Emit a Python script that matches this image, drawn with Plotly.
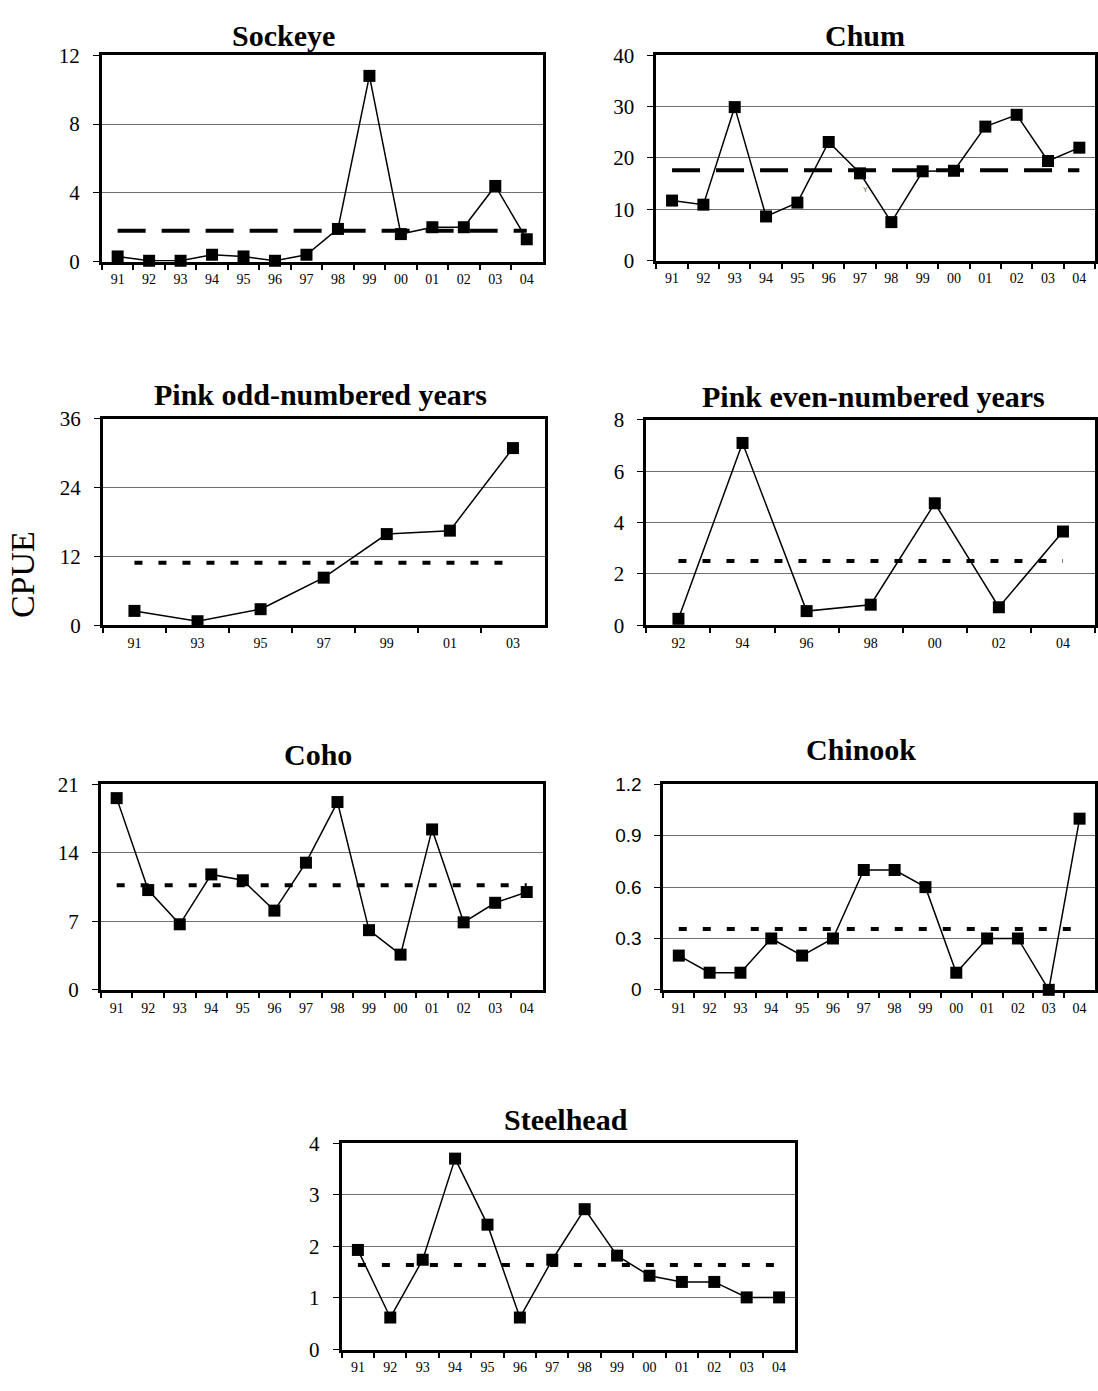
import plotly.graph_objects as go

W, H = 1098, 1391

years14 = ["91", "92", "93", "94", "95", "96", "97", "98", "99", "00", "01", "02", "03", "04"]
years_odd = ["91", "93", "95", "97", "99", "01", "03"]
years_even = ["92", "94", "96", "98", "00", "02", "04"]

sockeye = [0.3, 0.05, 0.05, 0.4, 0.3, 0.05, 0.4, 1.9, 10.8, 1.6, 2.0, 2.0, 4.4, 1.3]
chum = [11.7, 10.9, 29.9, 8.6, 11.3, 23.1, 17.0, 7.5, 17.4, 17.5, 26.1, 28.4, 19.4, 22.0]
pink_odd = [2.5, 0.7, 2.8, 8.3, 15.9, 16.5, 30.9]
pink_even = [0.25, 7.1, 0.55, 0.8, 4.75, 0.7, 3.65]
coho = [19.6, 10.2, 6.7, 11.8, 11.2, 8.1, 13.0, 19.2, 6.1, 3.6, 16.4, 6.9, 8.9, 10.0]
chinook = [0.2, 0.1, 0.1, 0.3, 0.2, 0.3, 0.7, 0.7, 0.6, 0.1, 0.3, 0.3, 0.0, 1.0]
steelhead = [1.93, 0.62, 1.74, 3.7, 2.42, 0.62, 1.74, 2.72, 1.82, 1.43, 1.31, 1.31, 1.01, 1.01]

means = {"Sockeye": 1.8, "Chum": 17.6, "Pink odd-numbered years": 10.9,
         "Pink even-numbered years": 2.5, "Coho": 10.7, "Chinook": 0.355, "Steelhead": 1.64}

# panel specs: title, categories, values, y max, dtick, pixel box (l, r, t, b), title pos, dash, tick font, tick size
panels = [
    ("Sockeye", years14, sockeye, 12, 4, (102, 543, 44, 254), (284, 24), "28px,16px", "Liberation Serif", 21),
    ("Chum", years14, chum, 40, 10, (657, 1096, 44, 253), (866, 24), "28px,16px", "Liberation Serif", 21),
    ("Pink odd-numbered years", years_odd, pink_odd, 36, 12, (103, 545, 414, 624), (321, 389), "8px,16px", "Liberation Serif", 21),
    ("Pink even-numbered years", years_even, pink_even, 8, 2, (647, 1096, 415, 624), (874, 391), "8px,16px", "Liberation Serif", 21),
    ("Coho", years14, coho, 21, 7, (101, 543, 786, 995), (318, 756), "8px,16px", "Liberation Serif", 21),
    ("Chinook", years14, chinook, 1.2, 0.3, (664, 1096, 786, 995), (862, 750), "8px,16px", "Liberation Sans", 19),
    ("Steelhead", years14, steelhead, 4, 1, (342, 796, 1151, 1361), (567, 1127), "8px,16px", "Liberation Serif", 21),
]

fig = go.Figure()
annotations = []
for i, (title, cats, vals, ymax, dt, box, tpos, dash, tfont, tsize) in enumerate(panels):
    n = i + 1
    xa = "x" if n == 1 else f"x{n}"
    ya = "y" if n == 1 else f"y{n}"
    l, r, t, b = box
    fig.add_trace(go.Scatter(
        x=[cats[0], cats[-1]], y=[means[title], means[title]], mode="lines",
        line=dict(color="black", width=4, dash=dash),
        xaxis=xa, yaxis=ya, showlegend=False, hoverinfo="skip"))
    fig.add_trace(go.Scatter(
        x=cats, y=vals, mode="lines+markers",
        line=dict(color="black", width=1.5),
        marker=dict(symbol="square", size=12, color="black"),
        xaxis=xa, yaxis=ya, showlegend=False, cliponaxis=False))
    xkey = "xaxis" if n == 1 else f"xaxis{n}"
    ykey = "yaxis" if n == 1 else f"yaxis{n}"
    fig.layout[xkey] = dict(
        domain=[l / W, r / W], anchor=ya, type="category",
        categoryorder="array", categoryarray=cats,
        range=[-0.5, len(cats) - 0.5], tickson="boundaries",
        ticks="outside", ticklen=5, tickwidth=1.5, tickcolor="black",
        showline=True, linewidth=3, linecolor="black", mirror=True,
        showgrid=False, zeroline=False, fixedrange=True,
        tickfont=dict(family="Liberation Serif", size=14, color="black"),
        ticklabelstandoff=3)
    fig.layout[ykey] = dict(
        domain=[1 - b / H, 1 - t / H], anchor=xa,
        range=[0, ymax], dtick=dt, tick0=0,
        ticks="outside", ticklen=6, tickwidth=1, tickcolor="black",
        showline=True, linewidth=3, linecolor="black", mirror=True,
        showgrid=True, gridcolor="#707070", gridwidth=1, zeroline=False,
        fixedrange=True,
        tickfont=dict(family=tfont, size=tsize, color="black"),
        ticklabelstandoff=9)
    annotations.append(dict(
        text=f"<b>{title}</b>", x=tpos[0] / W, y=1 - tpos[1] / H,
        xref="paper", yref="paper", showarrow=False, xanchor="center", yanchor="middle",
        font=dict(family="Liberation Serif", size=30, color="black")))

annotations.append(dict(
    text="CPUE", x=22 / W, y=1 - 572 / H, xref="paper", yref="paper", showarrow=False,
    textangle=-90, xanchor="center", yanchor="middle",
    font=dict(family="Liberation Serif", size=34, color="black")))
annotations.append(dict(
    text="Y", x=866 / W, y=1 - 181 / H, xref="paper", yref="paper", showarrow=False,
    xanchor="center", yanchor="middle",
    font=dict(family="Liberation Sans", size=7, color="#555555")))

fig.update_layout(
    width=W, height=H, margin=dict(l=0, r=0, t=0, b=0),
    paper_bgcolor="white", plot_bgcolor="white",
    annotations=annotations, showlegend=False)

fig.write_html("out.html", config={"displayModeBar": False})
